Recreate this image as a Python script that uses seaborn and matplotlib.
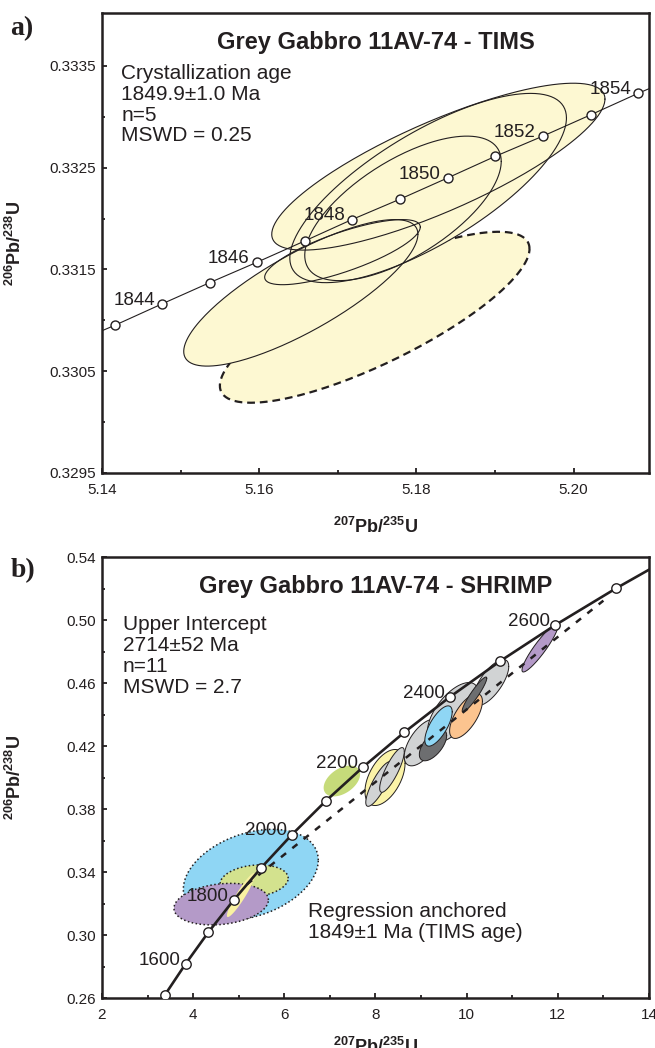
import numpy as np
import pandas as pd
import seaborn as sns
import matplotlib.pyplot as plt
from matplotlib.ticker import FixedLocator, FormatStrFormatter

INK = "#231f20"
sns.set_theme(style="ticks")
plt.rcParams["font.family"] = ["Liberation Sans", "DejaVu Sans"]
plt.rcParams["mathtext.fontset"] = "custom"
plt.rcParams["mathtext.rm"] = "Liberation Sans"
plt.rcParams["mathtext.bf"] = "Liberation Sans:bold"
plt.rcParams["text.color"] = INK
plt.rcParams["axes.edgecolor"] = INK
plt.rcParams["xtick.color"] = INK
plt.rcParams["ytick.color"] = INK

# ---- panel a: TIMS concordia (age in Ma, 207/235, 206/238)
tims_age = [1842, 1843, 1844, 1845, 1846, 1847, 1848, 1849, 1850, 1851, 1852, 1853, 1854, 1855]
tims_x = [5.1355, 5.1416, 5.1476, 5.1537, 5.1597, 5.1658, 5.1718, 5.1779,
          5.1840, 5.1900, 5.1961, 5.2022, 5.2082, 5.2143]
tims_y = [0.33075, 0.33095, 0.33116, 0.33137, 0.33157, 0.33178, 0.33199, 0.33219,
          0.33240, 0.33261, 0.33281, 0.33302, 0.33323, 0.33343]
tims_marked = [1843, 1844, 1845, 1846, 1847, 1848, 1849, 1850, 1851, 1852, 1853, 1854]
tims_labelled = [1844, 1846, 1848, 1850, 1852, 1854]
tims_xticks = [5.14, 5.16, 5.18, 5.20]
tims_xminor = [5.15, 5.17, 5.19]
tims_yticks = [0.3295, 0.3305, 0.3315, 0.3325, 0.3335]
tims_yminor = [0.3300, 0.3310, 0.3320, 0.3330]

# TIMS analyses: centre, half-extent (2 sigma) and error correlation
tims_cx = [5.1828, 5.1815, 5.1783, 5.1706, 5.1653]
tims_cy = [0.33251, 0.33230, 0.33210, 0.33167, 0.33127]
tims_ex = [0.0212, 0.0176, 0.0125, 0.0099, 0.0149]
tims_ey = [0.00082, 0.00093, 0.00071, 0.00032, 0.00072]
tims_rho = [0.81, 0.74, 0.65, 0.77, 0.80]
# excluded analysis (dashed)
rej_cx, rej_cy, rej_ex, rej_ey, rej_rho = 5.1747, 0.33103, 0.0197, 0.00084, 0.80

# ---- panel b: SHRIMP concordia
shrimp_age = [1490, 1500, 1600, 1700, 1800, 1900, 2000, 2100, 2200, 2300, 2400, 2500, 2600, 2700, 2750]
shrimp_x = [3.338, 3.381, 3.835, 4.335, 4.887, 5.496, 6.169, 6.910, 7.729, 8.633,
            9.630, 10.730, 11.945, 13.283, 14.004]
shrimp_y = [0.2600, 0.2620, 0.2817, 0.3018, 0.3221, 0.3428, 0.3638, 0.3851, 0.4067,
            0.4287, 0.4511, 0.4738, 0.4968, 0.5202, 0.5320]
shrimp_marked = [1500, 1600, 1700, 1800, 1900, 2000, 2100, 2200, 2300, 2400, 2500, 2600, 2700]
shrimp_labelled = [1600, 1800, 2000, 2200, 2400, 2600]
shrimp_xticks = [2, 4, 6, 8, 10, 12, 14]
shrimp_xminor = [3, 5, 7, 9, 11, 13]
shrimp_yticks = [0.26, 0.30, 0.34, 0.38, 0.42, 0.46, 0.50, 0.54]
shrimp_yminor = [0.28, 0.32, 0.36, 0.40, 0.44, 0.48, 0.52]

# regression anchored at 1849 Ma
reg_x = [5.18, 13.0]
reg_y = [0.3322, 0.5123]

# SHRIMP analyses (drawing order back to front)
shr_cx = [5.265, 5.339, 4.615, 5.05, 7.263, 8.209, 8.077, 8.362, 9.031, 10.534,
          9.701, 9.262, 9.383, 9.986, 10.172, 11.609]
shr_cy = [0.3383, 0.3343, 0.3196, 0.3254, 0.3978, 0.4000, 0.3959, 0.4048, 0.4222,
          0.4603, 0.4413, 0.4206, 0.4327, 0.4390, 0.4527, 0.4822]
shr_ex = [1.48, 0.746, 1.036, 0.31, 0.40, 0.44, 0.29, 0.27, 0.40, 0.39,
          0.56, 0.30, 0.30, 0.36, 0.27, 0.395]
shr_ey = [0.0288, 0.0102, 0.0132, 0.0140, 0.0098, 0.0178, 0.0142, 0.0142, 0.0148,
          0.0146, 0.0190, 0.0100, 0.0128, 0.0142, 0.0111, 0.0152]
shr_rho = [0.32, 0.17, 0.20, 0.93, 0.44, 0.50, 0.82, 0.82, 0.60, 0.70,
           0.62, 0.60, 0.70, 0.66, 0.93, 0.92]
shr_color = ["#8fd6f4", "#d3e28e", "#b49ac8", "#f9f1a2", "#c6db7a", "#fbf3a8", "#d1d3d4",
             "#d1d3d4", "#d1d3d4", "#d1d3d4", "#d1d3d4", "#6d6e70", "#8fd6f4", "#fcc48f",
             "#6d6e70", "#b49ac8"]
shr_edge = ["dot", "dot", "dot", "none", "none", "solid", "solid", "solid", "solid", "solid",
            "solid", "solid", "solid", "solid", "solid", "solid"]


def ellipse(ax, cx, cy, ex, ey, rho, face, edge="solid", lw=0.7, z=2):
    t = np.linspace(0, 2 * np.pi, 240)
    xs = cx + ex * np.cos(t)
    ys = cy + ey * (rho * np.cos(t) + np.sqrt(1 - rho ** 2) * np.sin(t))
    if face != "none":
        ax.fill(xs, ys, facecolor=face, edgecolor="none", zorder=z)
    if edge == "solid":
        ax.plot(xs, ys, color=INK, lw=lw, zorder=z + 0.01)
    elif edge == "dot":
        ax.plot(xs, ys, color=INK, lw=1.1, ls=(0, (1, 1.6)), zorder=z + 0.01)
    elif edge == "dash":
        ax.plot(xs, ys, color=INK, lw=1.6, ls=(0, (3.5, 2.2)), zorder=z + 0.01)


def style_axes(ax, xticks, xminor, yticks, yminor, xfmt, yfmt):
    ax.xaxis.set_major_locator(FixedLocator(xticks))
    ax.xaxis.set_minor_locator(FixedLocator(xminor))
    ax.yaxis.set_major_locator(FixedLocator(yticks))
    ax.yaxis.set_minor_locator(FixedLocator(yminor))
    ax.xaxis.set_major_formatter(FormatStrFormatter(xfmt))
    ax.yaxis.set_major_formatter(FormatStrFormatter(yfmt))
    for s in ax.spines.values():
        s.set_linewidth(1.8)
        s.set_color(INK)
    ax.tick_params(which="both", direction="in", width=1.3, top=False, right=False,
                   labelsize=11, labelcolor=INK)
    ax.tick_params(which="major", length=3.5)
    ax.tick_params(which="minor", length=2.5)
    ax.tick_params(axis="x", pad=7)
    ax.tick_params(axis="y", pad=4)
    ax.grid(False)
    ax.set_xlabel(r"$\mathbf{^{207}Pb/^{235}U}$", fontsize=13, color=INK)
    ax.set_ylabel(r"$\mathbf{^{206}Pb/^{238}U}$", fontsize=13, color=INK)
    ax.yaxis.set_label_coords(-0.141, 0.5)


fig = plt.figure(figsize=(6.55, 10.48), dpi=100)
ax_a = fig.add_axes([0.1557, 0.5487, 0.8351, 0.4389])
ax_b = fig.add_axes([0.1557, 0.0477, 0.8351, 0.4208])

# ---------------- panel a
conc_a = pd.DataFrame({"age": tims_age, "x": tims_x, "y": tims_y})
ellipse(ax_a, rej_cx, rej_cy, rej_ex, rej_ey, rej_rho, "#fdf8d2", edge="dash", z=1)
for i in range(len(tims_cx)):
    ellipse(ax_a, tims_cx[i], tims_cy[i], tims_ex[i], tims_ey[i], tims_rho[i],
            "#fdf8d2", edge="none", z=2)
for i in range(len(tims_cx)):
    ellipse(ax_a, tims_cx[i], tims_cy[i], tims_ex[i], tims_ey[i], tims_rho[i],
            "none", edge="solid", lw=0.8, z=2.5)
sns.lineplot(data=conc_a, x="x", y="y", sort=False, estimator=None, color=INK,
             lw=0.8, ax=ax_a, zorder=4)
pts = conc_a[conc_a.age.isin(tims_marked)]
sns.scatterplot(data=pts, x="x", y="y", s=42, color="white", edgecolor=INK,
                linewidth=1.0, ax=ax_a, zorder=5)
for _, r in conc_a[conc_a.age.isin(tims_labelled)].iterrows():
    ax_a.annotate(str(int(r.age)), (r.x, r.y), xytext=(-5, -0.5), textcoords="offset points",
                  ha="right", va="baseline", fontsize=13.5, color=INK, zorder=6)

ax_a.set_xlim(5.14, 5.2096)
ax_a.set_ylim(0.3295, 0.33402)
style_axes(ax_a, tims_xticks, tims_xminor, tims_yticks, tims_yminor, "%.2f", "%.4f")
ax_a.xaxis.set_label_coords(0.5, -0.095)
ax_a.text(0.5, 0.935, "Grey Gabbro 11AV-74 - TIMS", transform=ax_a.transAxes,
          ha="center", va="center", fontsize=17, fontweight="bold", color=INK)
ax_a.text(0.035, 0.889, "Crystallization age\n1849.9\u00b11.0 Ma\nn=5\nMSWD = 0.25",
          transform=ax_a.transAxes, ha="left", va="top", fontsize=15,
          linespacing=1.12, color=INK)

# ---------------- panel b
conc_b = pd.DataFrame({"age": shrimp_age, "x": shrimp_x, "y": shrimp_y})
for i in range(len(shr_cx)):
    ellipse(ax_b, shr_cx[i], shr_cy[i], shr_ex[i], shr_ey[i], shr_rho[i],
            shr_color[i], edge=shr_edge[i], lw=0.7, z=1 + i * 0.05)
ax_b.plot(reg_x, reg_y, color=INK, lw=1.8, ls=(0, (2.6, 3.2)), zorder=3)
sns.lineplot(data=conc_b, x="x", y="y", sort=False, estimator=None, color=INK,
             lw=1.9, ax=ax_b, zorder=4)
pts = conc_b[conc_b.age.isin(shrimp_marked)]
sns.scatterplot(data=pts, x="x", y="y", s=46, color="white", edgecolor=INK,
                linewidth=1.0, ax=ax_b, zorder=5)
for _, r in conc_b[conc_b.age.isin(shrimp_labelled)].iterrows():
    ax_b.annotate(str(int(r.age)), (r.x, r.y), xytext=(-3.5, -0.5), textcoords="offset points",
                  ha="right", va="baseline", fontsize=13.5, color=INK, zorder=6)

ax_b.set_xlim(2, 14)
ax_b.set_ylim(0.26, 0.54)
style_axes(ax_b, shrimp_xticks, shrimp_xminor, shrimp_yticks, shrimp_yminor, "%d", "%.2f")
ax_b.xaxis.set_label_coords(0.5, -0.088)
ax_b.text(0.5, 0.932, "Grey Gabbro 11AV-74 - SHRIMP", transform=ax_b.transAxes,
          ha="center", va="center", fontsize=17, fontweight="bold", color=INK)
ax_b.text(0.038, 0.868, "Upper Intercept\n2714\u00b152 Ma\nn=11\nMSWD = 2.7",
          transform=ax_b.transAxes, ha="left", va="top", fontsize=15,
          linespacing=1.12, color=INK)
ax_b.text(0.377, 0.218, "Regression anchored\n1849\u00b11 Ma (TIMS age)",
          transform=ax_b.transAxes, ha="left", va="top", fontsize=15,
          linespacing=1.12, color=INK)

fig.text(0.016, 1 - 29 / 1048, "a)", family="Liberation Serif", fontweight="bold",
         fontsize=20, va="center", ha="left", color=INK)
fig.text(0.016, 1 - 571 / 1048, "b)", family="Liberation Serif", fontweight="bold",
         fontsize=20, va="center", ha="left", color=INK)

fig.savefig("out.png", dpi=100)
